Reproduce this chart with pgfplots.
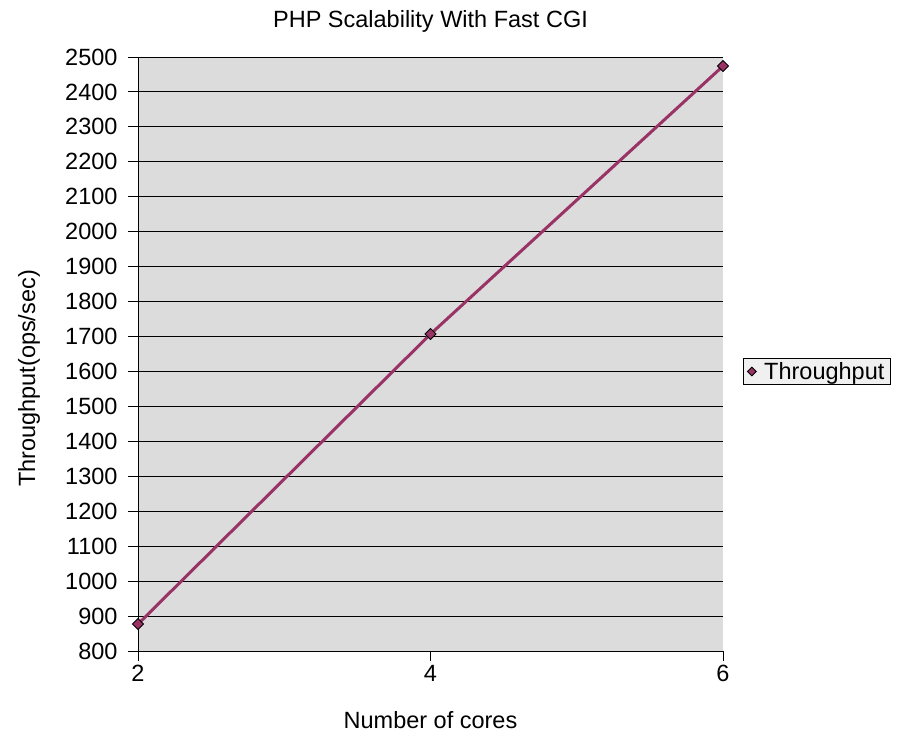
\documentclass[border=0pt]{standalone}
\usepackage{pgfplots}
\pgfplotsset{compat=1.18}
\usepackage{fontspec}
\setmainfont{Liberation Sans}
\definecolor{plotbg}{RGB}{220,220,220}
\definecolor{linec}{RGB}{153,51,102}
\begin{document}
\begin{tikzpicture}[x=1pt,y=1pt]
\useasboundingbox (0,0) rectangle (898,733);
\begin{axis}[
  at={(138pt,82pt)}, anchor=south west,
  scale only axis, width=585pt, height=594pt,
  xmin=2, xmax=6, ymin=800, ymax=2500,
  xtick={2,4,6}, ytick distance=100,
  axis x line*=bottom, axis y line*=left,
  axis line style={black, line width=0.9pt, -},
  ymajorgrids, major grid style={black, line width=0.9pt},
  axis background/.style={fill=plotbg},
  tick style={black, line width=0.9pt},
  tick align=outside, major tick length=10pt,
  /pgf/number format/assume math mode=true,
  /pgf/number format/1000 sep={},
  tick label style={font=\fontsize{23.5}{26}\selectfont},
  yticklabel style={xshift=-7pt},
  xticklabel style={yshift=-1pt},
  title={PHP Scalability With Fast CGI},
  title style={font=\fontsize{23.5}{26}\selectfont, at={(rel axis cs:0.5,1)}, anchor=base, yshift=23pt},
  xlabel={Number of cores},
  xlabel style={font=\fontsize{23.5}{26}\selectfont, at={(rel axis cs:0.5,0)}, anchor=base, yshift=-78pt},
  ylabel={Throughput(ops/sec)},
  ylabel style={font=\fontsize{23.5}{26}\selectfont, at={(rel axis cs:0,0.5)}, anchor=center, xshift=-24.5pt, yshift=109pt},
  legend style={at={(1.0342,0.4705)}, anchor=west, draw=black, fill=gray!12,
    font=\fontsize{23.5}{26}\selectfont, inner xsep=4pt, inner ysep=2pt, line width=0.9pt},
  legend cell align=left,
  clip=false,
]
\addplot[forget plot, color=linec, line width=3pt, mark=square*,
  mark size=3.9pt, mark options={rotate=45, fill=linec, draw=black, line width=0.9pt}]
  coordinates {(2,877) (4,1707) (6,2474)};
\addlegendimage{only marks, mark=square*, mark size=3.1pt, mark options={rotate=45, fill=linec, draw=black, line width=0.8pt}}
\addlegendentry{\hspace{6pt}Throughput}
\end{axis}
\end{tikzpicture}
\end{document}
